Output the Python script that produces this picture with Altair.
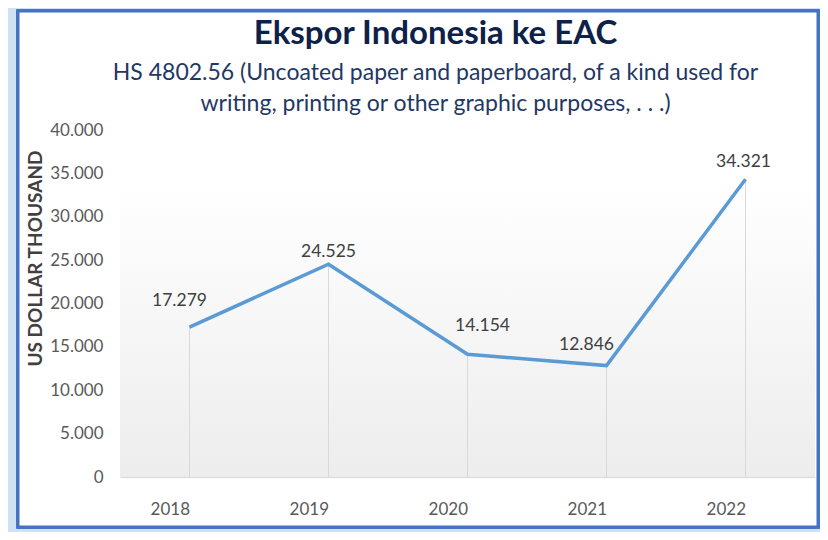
import altair as alt
import pandas as pd

years = ["2018", "2019", "2020", "2021", "2022"]
values = [17279, 24525, 14154, 12846, 34321]
y_ticks = [0, 5000, 10000, 15000, 20000, 25000, 30000, 35000, 40000]

df = pd.DataFrame({"year": years, "value": values})

W, H = 695, 347
FONT = "Lato"

xscale = alt.Scale(type="point", padding=0.5, domain=years)
yscale = alt.Scale(domain=[0, 40000], nice=False)

base = alt.Chart(df)

# white panel with blue border (decoration)
panel = base.mark_rect(fill="white", stroke="#4472c4", strokeWidth=3, clip=False).encode(
    x=alt.value(-102), x2=alt.value(698), y=alt.value(-119), y2=alt.value(397)
)

grad = base.mark_rect(
    color=alt.LinearGradient(
        gradient="linear", x1=0, x2=0, y1=0, y2=1,
        stops=[alt.GradientStop(color="#ffffff", offset=0),
               alt.GradientStop(color="#ffffff", offset=0.15),
               alt.GradientStop(color="#ededed", offset=1)],
    )
).encode(x=alt.value(0), x2=alt.value(W), y=alt.value(0), y2=alt.value(H))

rules = base.mark_rule(color="#d9d9d9", strokeWidth=1).encode(
    x=alt.X("year:O", scale=xscale),
    y=alt.Y("value:Q", scale=yscale),
    y2=alt.datum(0),
)

line = base.mark_line(color="#5b9bd5", strokeWidth=3.5, strokeJoin="miter").encode(
    x=alt.X("year:O", scale=xscale, sort=years,
            axis=alt.Axis(title=None, labelFontSize=17, labelColor="#595959", labelFont=FONT,
                          labelPadding=32, ticks=False, domainColor="#d9d9d9", labelAngle=0,
                          zindex=2)),
    y=alt.Y("value:Q", scale=yscale,
            axis=alt.Axis(title="US DOLLAR THOUSAND", values=y_ticks, grid=False, domain=False,
                          ticks=False, labelFontSize=17, labelColor="#595959", labelFont=FONT,
                          labelPadding=17,
                          labelExpr="replace(format(datum.value, ','), ',', '.')",
                          titleFont=FONT, titleFontSize=19, titleFontWeight="bold",
                          titleColor="#404040", titlePadding=4, titleY=128, zindex=2)),
)

offsets = {"2018": (-10, -26), "2019": (0, -12), "2020": (15, -28), "2021": (-20, -21), "2022": (-2, -17)}
label_layers = []
for yr, (dx, dy) in offsets.items():
    label_layers.append(
        base.transform_filter(alt.datum.year == yr)
        .transform_calculate(lbl="replace(format(datum.value, ','), ',', '.')")
        .mark_text(font=FONT, fontSize=17.5, color="#404040", dx=dx, dy=dy, baseline="middle")
        .encode(x=alt.X("year:O", scale=xscale), y=alt.Y("value:Q", scale=yscale), text="lbl:N")
    )

chart = alt.layer(panel, grad, rules, line, *label_layers).properties(
    width=W, height=H,
    autosize=alt.AutoSizeParams(type="none"),
    padding={"left": 112, "top": 122, "right": 5, "bottom": 55},
    background="#cfe2f3",
    title=alt.TitleParams(
        text="Ekspor Indonesia ke EAC",
        subtitle=["HS 4802.56 (Uncoated paper and paperboard, of a kind used for",
                  "writing, printing or other graphic purposes, . . .)"],
        font=FONT, fontSize=33, fontWeight="bold", color="#0e2148",
        subtitleFont=FONT, subtitleFontSize=23, subtitleColor="#1f3864",
        subtitlePadding=11, subtitleLineHeight=31,
        anchor="middle", dx=-32, offset=-106, zindex=2,
    ),
).configure_view(stroke=None)

chart.save("out.html", embed_options={"renderer": "svg", "actions": False})
